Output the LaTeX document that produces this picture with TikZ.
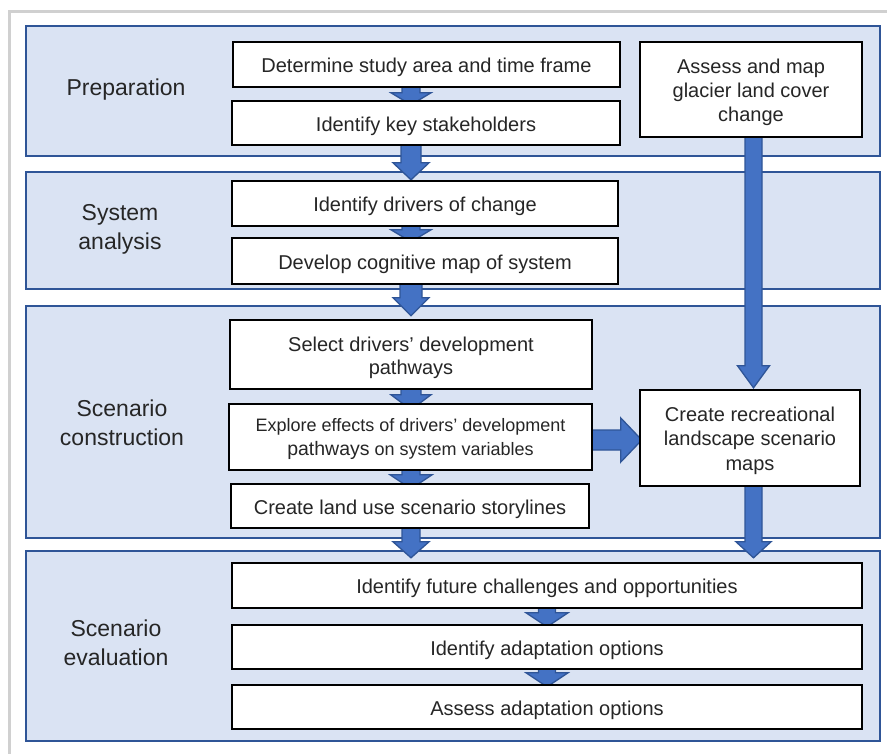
\documentclass[tikz,border=0pt]{standalone}
\usepackage{fontspec}
\setmainfont{Liberation Sans}
\usetikzlibrary{calc}
\definecolor{bandfill}{HTML}{DAE3F3}
\definecolor{bandline}{HTML}{2F5597}
\definecolor{arrowfill}{HTML}{4472C4}
\definecolor{txt}{HTML}{262626}
\definecolor{framegray}{HTML}{D0D0D0}
\tikzset{
  band/.style={draw=bandline, fill=bandfill, line width=2.2pt},
  slot/.style={draw=none, fill=none, inner sep=0pt},
  boxframe/.style={draw=black, fill=white, line width=2.5pt},
  btext/.style={align=center, inner sep=0pt, text=txt, font=\fontsize{20}{24}\selectfont},
  phase/.style={align=center, text=txt, font=\fontsize{23}{29}\selectfont},
  barrow/.style={draw=bandline, fill=arrowfill, line width=1.3pt, line join=miter},
}
% down block arrow: start, end(tip), shaft half, head half, head length
\newcommand{\dnarrow}[5]{\path[barrow] let \p1=(#1), \p2=(#2) in
  (\x1-#3pt,\y1) -- (\x1+#3pt,\y1) -- (\x1+#3pt,\y2+#5pt) -- (\x1+#4pt,\y2+#5pt)
  -- (\x1,\y2) -- (\x1-#4pt,\y2+#5pt) -- (\x1-#3pt,\y2+#5pt) -- cycle;}
% right block arrow
\newcommand{\rtarrow}[5]{\path[barrow] let \p1=(#1), \p2=(#2) in
  (\x1,\y1+#3pt) -- (\x2-#5pt,\y1+#3pt) -- (\x2-#5pt,\y1+#4pt) -- (\x2,\y1)
  -- (\x2-#5pt,\y1-#4pt) -- (\x2-#5pt,\y1-#3pt) -- (\x1,\y1-#3pt) -- cycle;}
\begin{document}
\begin{tikzpicture}[x=1pt,y=-1pt]
\useasboundingbox (0,0) rectangle (887,754);
% outer frame
\draw[framegray, line width=3pt] (9,754) -- (9,12) -- (887,12);
% bands
\draw[band] (26,26) rectangle (880,156);
\draw[band] (26,172) rectangle (880,289);
\draw[band] (26,306) rectangle (880,538);
\draw[band] (26,551) rectangle (880,741);
% phase labels
\node[phase] (p1) at (126,90) {Preparation};
\node[phase] (p2) at (120,229) {System\\analysis};
\node[phase] (p3) at (122,422.5) {Scenario\\construction};
\node[phase] (p4) at (116,643) {Scenario\\evaluation};
% axis coordinates
\coordinate (axL) at (411,0);
\coordinate (axR) at (753.5,0);
\coordinate (axE) at (0,440);
\coordinate (axM) at (547,0);
% box geometry
\path
  node[slot, minimum width=387, minimum height=45] (b1) at (426.5,64.5) {}
  node[slot, minimum width=388, minimum height=44] (b2) at (426,123) {}
  node[slot, minimum width=222, minimum height=95] (b3) at (751,89.5) {}
  node[slot, minimum width=386, minimum height=45] (b4) at (425,203.5) {}
  node[slot, minimum width=386, minimum height=46] (b5) at (425,261) {}
  node[slot, minimum width=362, minimum height=69] (b6) at (411,354.5) {}
  node[slot, minimum width=363, minimum height=66] (b7) at (410.5,437) {}
  node[slot, minimum width=358, minimum height=44] (b8) at (410,506) {}
  node[slot, minimum width=220, minimum height=96] (b9) at (750,438) {}
  node[slot, minimum width=630, minimum height=45] (b10) at (547,585.5) {}
  node[slot, minimum width=630, minimum height=44] (b11) at (547,647) {}
  node[slot, minimum width=630, minimum height=44] (b12) at (547,707) {};
% arrows
\dnarrow{b1.south -| axL}{$(b2.north -| axL)+(0,4)$}{9}{20}{12}
\dnarrow{b2.south -| axL}{$(b4.north -| axL)+(0,-1)$}{10}{18}{17}
\dnarrow{b4.south -| axL}{$(b5.north -| axL)+(0,4)$}{9}{20}{12}
\dnarrow{b5.south -| axL}{$(b6.north -| axL)+(0,-4)$}{11}{18}{18}
\dnarrow{b6.south -| axL}{$(b7.north -| axL)+(0,6)$}{10}{20}{15}
\dnarrow{b7.south -| axL}{$(b8.north -| axL)+(0,5)$}{9}{21}{14}
\dnarrow{b8.south -| axL}{$(b10.north -| axL)+(0,-5)$}{9}{18}{16}
\dnarrow{b10.south -| axM}{$(b11.north -| axM)+(0,2)$}{8.5}{21}{14}
\dnarrow{b11.south -| axM}{$(b12.north -| axM)+(0,2)$}{8.5}{21}{14}
\dnarrow{b3.south -| axR}{$(b9.north -| axR)+(0,-2)$}{8.5}{16}{22}
\dnarrow{b9.south -| axR}{$(b10.north -| axR)+(0,-5)$}{8.5}{17.5}{16}
\rtarrow{b7.east |- axE}{$(b9.west |- axE)+(2,0)$}{10}{22}{21}
% box frames
\foreach \b in {b1,b2,b3,b4,b5,b6,b7,b8,b9,b10,b11,b12}
  \draw[boxframe] (\b.north west) rectangle (\b.south east);
% box texts
\node[btext] (t1) at ($(b1)+(0,3)$) {Determine study area and time frame};
\node[btext] (t2) at ($(b2)+(0,3)$) {Identify key stakeholders};
\node[btext] (t3) at ($(b3)+(0,3)$) {Assess and map\\glacier land cover\\change};
\node[btext] (t4) at ($(b4)+(0,3)$) {Identify drivers of change};
\node[btext] (t5) at ($(b5)+(0,3)$) {Develop cognitive map of system};
\node[btext, font=\fontsize{20}{23}\selectfont] (t6) at ($(b6)+(0,3)$) {Select drivers’ development\\pathways};
\node[btext, font=\fontsize{18}{24}\selectfont] (t7) at ($(b7)+(0,2)$) {Explore effects of drivers’ development\\{\fontsize{19.5}{24}\selectfont pathways} on system variables};
\node[btext] (t8) at ($(b8)+(0,3)$) {Create land use scenario storylines};
\node[btext, font=\fontsize{20}{24.5}\selectfont] (t9) at ($(b9)+(0,2.5)$) {Create recreational\\landscape scenario\\maps};
\node[btext] (t10) at ($(b10)+(0,3)$) {Identify future challenges and opportunities};
\node[btext] (t11) at ($(b11)+(0,3)$) {Identify adaptation options};
\node[btext] (t12) at ($(b12)+(0,3)$) {Assess adaptation options};
\end{tikzpicture}
\end{document}
